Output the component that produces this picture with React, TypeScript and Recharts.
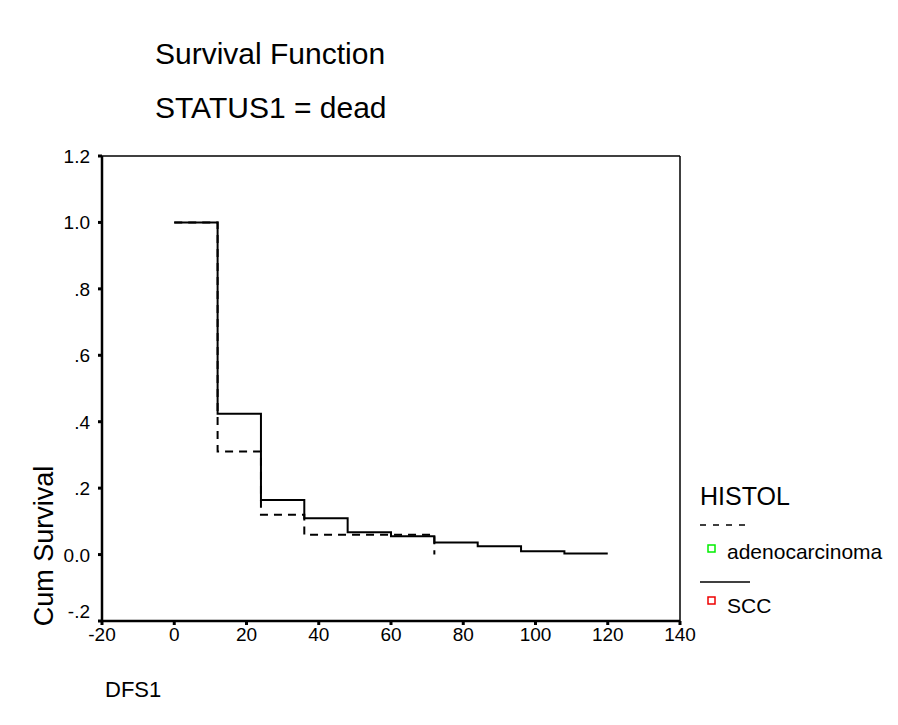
import React from "react";
import { LineChart, Line, XAxis, YAxis, ReferenceLine } from "recharts";

// months since surgery at which each step starts
const adenoTimes = [0, 12, 24, 36, 72];
const adenoSurvival = [1.0, 0.31, 0.12, 0.06, 0.0];

const sccTimes = [0, 12, 24, 36, 48, 60, 72, 84, 96, 108, 120];
const sccSurvival = [1.0, 0.424, 0.164, 0.109, 0.067, 0.055, 0.036, 0.025, 0.01, 0.003, 0.003];

const xTicks = [-20, 0, 20, 40, 60, 80, 100, 120, 140];
const yTicks = [-0.2, 0, 0.2, 0.4, 0.6, 0.8, 1.0, 1.2];

const adenoData = adenoTimes.map((t, i) => ({ t, s: adenoSurvival[i] }));
const sccData = sccTimes.map((t, i) => ({ t, s: sccSurvival[i] }));

const font = "'Liberation Sans', Arial, sans-serif";

const fmtY = (v: number) => {
  if (Math.abs(v) < 1e-9) return "0.0";
  const s = v.toFixed(1);
  return s.replace(/^(-?)0\./, "$1.");
};

// y tick label; the lowest one sits a bit higher like SPSS draws it
const YTick = (props: any) => {
  const { x, y, payload } = props;
  const lift = payload.value < -0.1 ? -10 : 0;
  return (
    <text x={x} y={y + lift} dy={7} textAnchor="end" fill="#000" fontSize={19} fontFamily={font}>
      {fmtY(payload.value)}
    </text>
  );
};

export default function App() {
  return (
    <div style={{ position: "absolute", left: 0, top: 0, width: 898, height: 725, background: "#fff", fontFamily: font }}>
      <div style={{ position: "absolute", left: 155, top: 36, fontSize: 30, lineHeight: "36px", color: "#000" }}>
        Survival Function
      </div>
      <div style={{ position: "absolute", left: 155, top: 90, fontSize: 30, lineHeight: "36px", color: "#000" }}>
        STATUS1 = dead
      </div>

      <LineChart
        width={898}
        height={725}
        margin={{ top: 156, right: 218, left: 42, bottom: 74 }}
        style={{ position: "absolute", left: 0, top: 0 }}
      >
        <XAxis
          type="number"
          dataKey="t"
          domain={[-20, 140]}
          ticks={xTicks}
          allowDataOverflow
          height={30}
          axisLine={{ stroke: "#000", strokeWidth: 2.5 }}
          tickLine={{ stroke: "#000", strokeWidth: 3 }}
          tickSize={4}
          tickMargin={3}
          tick={{ fill: "#000", fontSize: 19, fontFamily: font }}
        />
        <YAxis
          type="number"
          dataKey="s"
          domain={[-0.2, 1.2]}
          ticks={yTicks}
          allowDataOverflow
          width={60}
          axisLine={{ stroke: "#000", strokeWidth: 2.5 }}
          tickLine={{ stroke: "#000", strokeWidth: 3 }}
          tickSize={4}
          tickMargin={8}
          tick={<YTick />}
        />
        <ReferenceLine y={1.2} stroke="#000" strokeWidth={1.5} ifOverflow="visible" />
        <ReferenceLine x={140} stroke="#000" strokeWidth={1.5} ifOverflow="visible" />
        <Line
          data={sccData}
          dataKey="s"
          type="stepAfter"
          stroke="#000"
          strokeWidth={2}
          dot={false}
          isAnimationActive={false}
        />
        <Line
          data={adenoData}
          dataKey="s"
          type="stepAfter"
          stroke="#000"
          strokeWidth={2}
          strokeDasharray="8 6"
          dot={false}
          isAnimationActive={false}
        />
      </LineChart>

      <div
        style={{
          position: "absolute",
          left: 44,
          top: 546,
          transform: "translate(-50%, -50%) rotate(-90deg)",
          fontSize: 27,
          whiteSpace: "nowrap",
        }}
      >
        Cum Survival
      </div>
      <div style={{ position: "absolute", left: 105, top: 677, fontSize: 22 }}>DFS1</div>

      <div style={{ position: "absolute", left: 700, top: 482, fontSize: 25 }}>HISTOL</div>
      <svg style={{ position: "absolute", left: 698, top: 515 }} width={200} height={100}>
        <line x1={2} y1={10} x2={54} y2={10} stroke="#000" strokeWidth={1.5} strokeDasharray="6 7" />
        <rect x={10} y={30} width={7} height={7} fill="none" stroke="#00ee00" strokeWidth={1.5} />
        <line x1={2} y1={67} x2={52} y2={67} stroke="#000" strokeWidth={1.5} />
        <rect x={10} y={82} width={7} height={7} fill="none" stroke="#ee0000" strokeWidth={1.5} />
      </svg>
      <div style={{ position: "absolute", left: 727, top: 540, fontSize: 21 }}>adenocarcinoma</div>
      <div style={{ position: "absolute", left: 727, top: 594, fontSize: 21 }}>SCC</div>
    </div>
  );
}
